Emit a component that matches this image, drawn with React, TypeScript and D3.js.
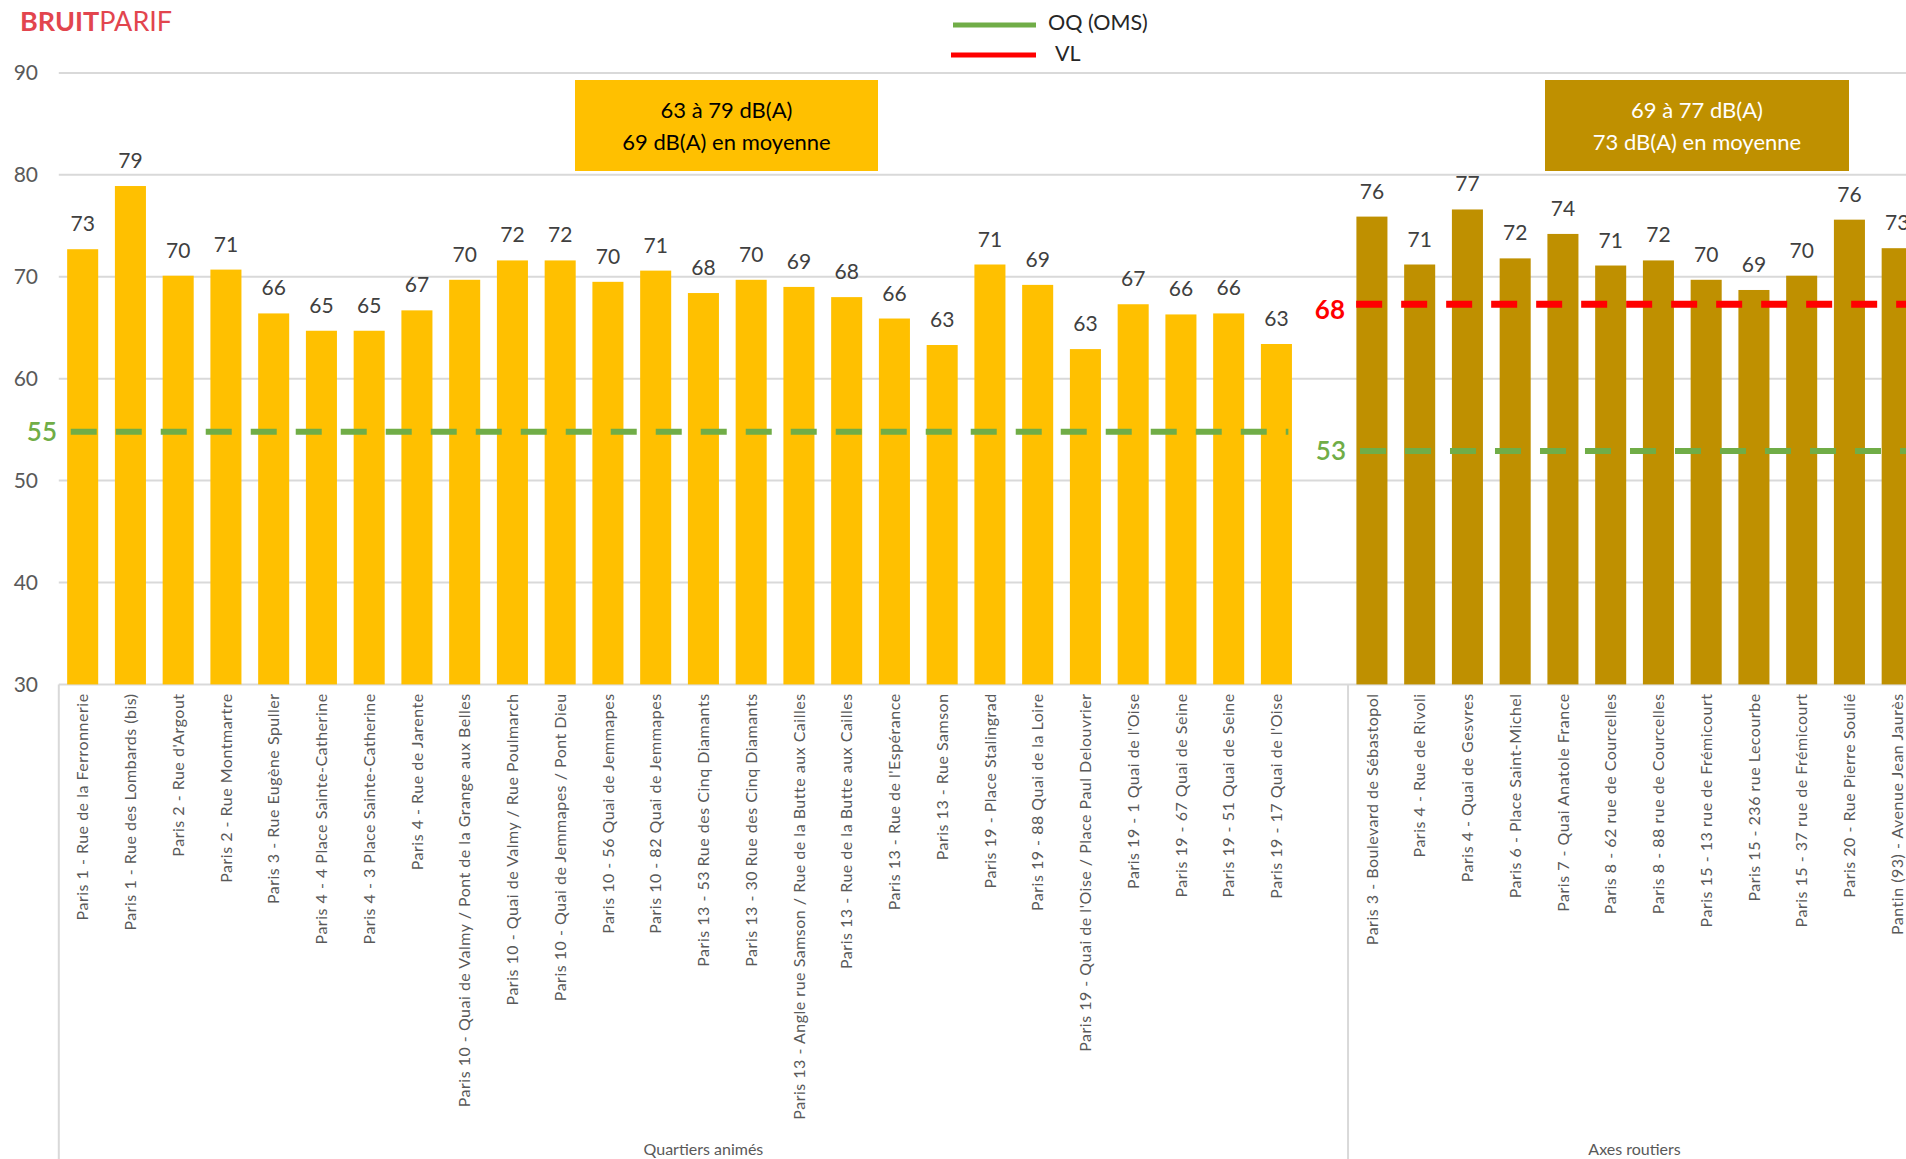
import React from "react";
import * as d3 from "d3";

const quartiersLabels = [
  "Paris 1 - Rue de la Ferronnerie",
  "Paris 1 - Rue des Lombards (bis)",
  "Paris 2 - Rue d'Argout",
  "Paris 2 - Rue Montmartre",
  "Paris 3 - Rue Eugène Spuller",
  "Paris 4 - 4 Place Sainte-Catherine",
  "Paris 4 - 3 Place Sainte-Catherine",
  "Paris 4 - Rue de Jarente",
  "Paris 10 - Quai de Valmy / Pont de la Grange aux Belles",
  "Paris 10 - Quai de Valmy / Rue Poulmarch",
  "Paris 10 - Quai de Jemmapes / Pont Dieu",
  "Paris 10 - 56 Quai de Jemmapes",
  "Paris 10 - 82 Quai de Jemmapes",
  "Paris 13 - 53 Rue des Cinq Diamants",
  "Paris 13 - 30 Rue des Cinq Diamants",
  "Paris 13 - Angle rue Samson / Rue de la Butte aux Cailles",
  "Paris 13 - Rue de la Butte aux Cailles",
  "Paris 13 - Rue de l'Espérance",
  "Paris 13 - Rue Samson",
  "Paris 19 - Place Stalingrad",
  "Paris 19 - 88 Quai de la Loire",
  "Paris 19 - Quai de l'Oise / Place Paul Delouvrier",
  "Paris 19 - 1 Quai de l'Oise",
  "Paris 19 - 67 Quai de Seine",
  "Paris 19 - 51 Quai de Seine",
  "Paris 19 - 17 Quai de l'Oise",
];
const quartiersValues = [
  72.7, 78.9, 70.1, 70.7, 66.4, 64.7, 64.7, 66.7, 69.7, 71.6, 71.6, 69.5, 70.6,
  68.4, 69.7, 69.0, 68.0, 65.9, 63.3, 71.2, 69.2, 62.9, 67.3, 66.3, 66.4, 63.4,
];

const axesLabels = [
  "Paris 3 - Boulevard de Sébastopol",
  "Paris 4 - Rue de Rivoli",
  "Paris 4 - Quai de Gesvres",
  "Paris 6 - Place Saint-Michel",
  "Paris 7 - Quai Anatole France",
  "Paris 8 - 62 rue de Courcelles",
  "Paris 8 - 88 rue de Courcelles",
  "Paris 15 - 13 rue de Frémicourt",
  "Paris 15 - 236 rue Lecourbe",
  "Paris 15 - 37 rue de Frémicourt",
  "Paris 20 - Rue Pierre Soulié",
  "Pantin (93) - Avenue Jean Jaurès",
];
const axesValues = [75.9, 71.2, 76.6, 71.8, 74.2, 71.1, 71.6, 69.7, 68.7, 70.1, 75.6, 72.8];

const groupNames = ["Quartiers animés", "Axes routiers"];
const boxTexts = [
  ["63 à 79 dB(A)", "69 dB(A) en moyenne"],
  ["69 à 77 dB(A)", "73 dB(A) en moyenne"],
];
const yTicks = [30, 40, 50, 60, 70, 80, 90];
const oqLevels = [54.8, 52.9];
const oqLabels = ["55", "53"];
const vlLevel = 67.3;
const vlLabel = "68";
const legendItems = ["OQ (OMS)", "VL"];

const W = 1906;
const H = 1159;
const FONT = "Lato, 'Open Sans', 'DejaVu Sans', sans-serif";
const COL1 = "#FFC000";
const COL2 = "#BF9000";
const GREEN = "#70AD47";
const RED = "#FF0000";
const GRID = "#D9D9D9";

type Cat = { key: string; label: string; value: number | null; group: number };

const cats: Cat[] = [
  ...quartiersLabels.map((l, i) => ({ key: "q" + i, label: l, value: quartiersValues[i], group: 0 })),
  { key: "gap", label: "", value: null, group: 0 },
  ...axesLabels.map((l, i) => ({ key: "a" + i, label: l, value: axesValues[i], group: 1 })),
];

export default function App() {
  const left = 58.8;
  const step = 47.75;
  const x = d3
    .scaleBand<string>()
    .domain(cats.map((c) => c.key))
    .range([left, left + step * cats.length])
    .paddingInner(0.35)
    .paddingOuter(0.175);
  const y = d3.scaleLinear().domain([30, 90]).range([684.4, 72.9]);
  const st = x.step();

  const g0 = cats.filter((c) => c.group === 0);
  const g1 = cats.filter((c) => c.group === 1);
  const bandStart = (k: string) => (x(k) as number) + x.bandwidth() / 2 - st / 2;
  const bandEnd = (k: string) => bandStart(k) + st;

  const g0s = bandStart(g0[0].key);
  const g0e = bandEnd(g0[g0.length - 1].key);
  const g1s = bandStart(g1[0].key);
  const g1e = bandEnd(g1[g1.length - 1].key);
  const lastQ = "q" + (quartiersLabels.length - 1);

  const oqLines = [
    { x1: g0s + st * 0.25, x2: bandEnd(lastQ) - st * 0.25, v: oqLevels[0], label: oqLabels[0], lx: 57 },
    { x1: g1s + st * 0.25, x2: g1e, v: oqLevels[1], label: oqLabels[1], lx: 1346 },
  ];

  return (
    <div style={{ position: "absolute", left: 0, top: 0, width: W, height: H, overflow: "hidden", background: "#fff" }}>
      <svg width={W} height={H} style={{ display: "block" }} fontFamily={FONT}>
        <rect width={W} height={H} fill="#fff" />
        {/* logo */}
        <text x={20} y={31} fontSize={27} fill="#E2454E">
          <tspan fontWeight={700}>BRUIT</tspan>
          <tspan fontWeight={400}>PARIF</tspan>
        </text>
        {/* legend */}
        <g>
          <line x1={953} x2={1036} y1={25} y2={25} stroke={GREEN} strokeWidth={5} />
          <text x={1048} y={22} dy="0.35em" fontSize={21.5} fill="#262626">{legendItems[0]}</text>
          <line x1={951} x2={1036} y1={55} y2={55} stroke={RED} strokeWidth={5} />
          <text x={1055} y={53} dy="0.35em" fontSize={21.5} fill="#262626">{legendItems[1]}</text>
        </g>
        {/* gridlines */}
        {yTicks.map((t) => (
          <g key={t}>
            <line x1={left} x2={W} y1={y(t)} y2={y(t)} stroke={GRID} strokeWidth={2} />
            <text x={38} y={y(t)} dy="0.35em" textAnchor="end" fontSize={21} fill="#595959">{t}</text>
          </g>
        ))}
        {/* group separators */}
        {[g0s, g1s, g1e].map((gx, i) => (
          <line key={i} x1={gx} x2={gx} y1={y(30)} y2={H} stroke={GRID} strokeWidth={2} />
        ))}
        {/* annotation boxes */}
        {[
          { x0: 575, x1: 878, fill: COL1, color: "#000" },
          { x0: 1545, x1: 1849, fill: COL2, color: "#fff" },
        ].map((b, i) => (
          <g key={i}>
            <rect x={b.x0} y={80} width={b.x1 - b.x0} height={91} fill={b.fill} />
            {boxTexts[i].map((t, j) => (
              <text key={j} x={(b.x0 + b.x1) / 2} y={110.6 + j * 31.5} dy="0.35em" textAnchor="middle" fontSize={22} fill={b.color}>{t}</text>
            ))}
          </g>
        ))}
        {/* bars */}
        {cats.filter((c) => c.value !== null).map((c) => {
          const bx = x(c.key) as number;
          const v = c.value as number;
          return (
            <g key={c.key}>
              <rect x={bx} y={y(v)} width={x.bandwidth()} height={y(30) - y(v)} fill={c.group === 0 ? COL1 : COL2} />
              <text x={bx + x.bandwidth() / 2} y={y(v) - 18} textAnchor="middle" fontSize={21} fill="#404040">{Math.round(v)}</text>
            </g>
          );
        })}
        {/* OQ lines */}
        {oqLines.map((l, i) => (
          <g key={i}>
            <line x1={l.x1} x2={l.x2} y1={y(l.v)} y2={y(l.v)} stroke={GREEN} strokeWidth={6} strokeDasharray="26 19" />
            <text x={l.lx} y={y(l.v)} dy="0.35em" textAnchor="end" fontSize={26} fontWeight={600} fill={GREEN}>{l.label}</text>
          </g>
        ))}
        {/* VL line */}
        <line x1={g1s + st * 0.17} x2={g1e} y1={y(vlLevel)} y2={y(vlLevel)} stroke={RED} strokeWidth={7} strokeDasharray="26 19" />
        <text x={1345} y={y(vlLevel) + 6} dy="0.35em" textAnchor="end" fontSize={26} fontWeight={700} fill={RED}>{vlLabel}</text>
        {/* x labels */}
        {cats.filter((c) => c.label).map((c) => {
          const cx = (x(c.key) as number) + x.bandwidth() / 2;
          return (
            <text key={c.key} transform={`translate(${cx},${y(30) + 9}) rotate(-90)`} textAnchor="end" dy="0.35em" fontSize={16} letterSpacing={0.5} fill="#595959">{c.label}</text>
          );
        })}
        {/* group labels */}
        {[ [g0s, g0e], [g1s, g1e] ].map(([a, b], i) => (
          <text key={i} x={(a + b) / 2} y={1149} dy="0.35em" textAnchor="middle" fontSize={16} fill="#595959">{groupNames[i]}</text>
        ))}
      </svg>
    </div>
  );
}
